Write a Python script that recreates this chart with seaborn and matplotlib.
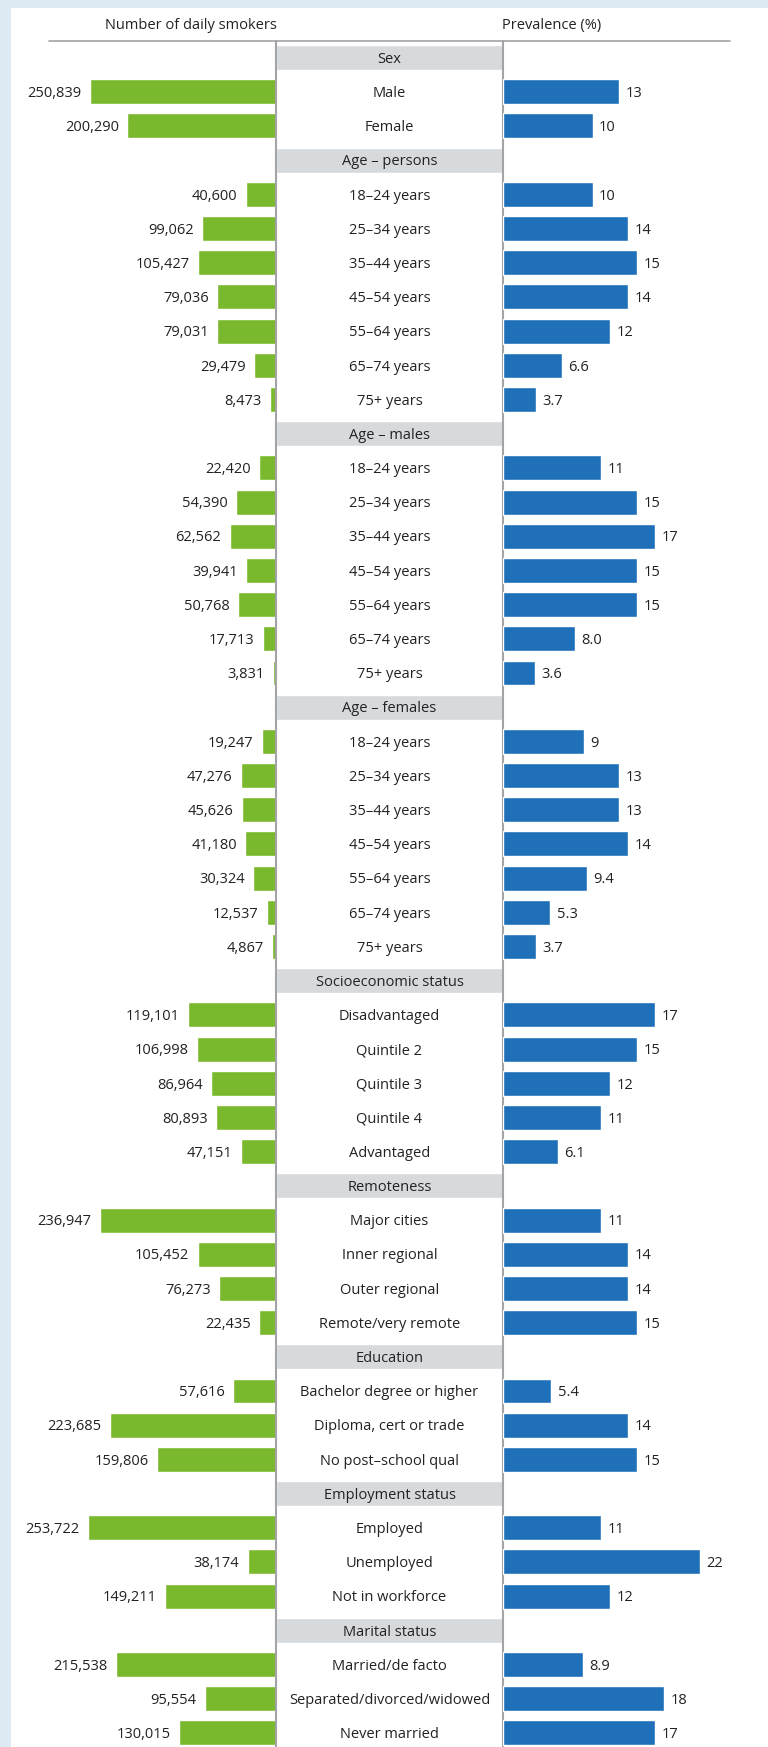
import numpy as np
import pandas as pd
import matplotlib
matplotlib.use('Agg')
import matplotlib.pyplot as plt
import seaborn as sns

# ---- data ----
sections = ['Sex', 'Age – persons', 'Age – males', 'Age – females',
            'Socioeconomic status', 'Remoteness', 'Education',
            'Employment status', 'Marital status']
ages = ['18–24 years', '25–34 years', '35–44 years', '45–54 years',
        '55–64 years', '65–74 years', '75+ years']
groups = [
    ['Male', 'Female'],
    ages, ages, ages,
    ['Disadvantaged', 'Quintile 2', 'Quintile 3', 'Quintile 4', 'Advantaged'],
    ['Major cities', 'Inner regional', 'Outer regional', 'Remote/very remote'],
    ['Bachelor degree or higher', 'Diploma, cert or trade', 'No post–school qual'],
    ['Employed', 'Unemployed', 'Not in workforce'],
    ['Married/de facto', 'Separated/divorced/widowed', 'Never married'],
]
smokers = [
    [250839, 200290],
    [40600, 99062, 105427, 79036, 79031, 29479, 8473],
    [22420, 54390, 62562, 39941, 50768, 17713, 3831],
    [19247, 47276, 45626, 41180, 30324, 12537, 4867],
    [119101, 106998, 86964, 80893, 47151],
    [236947, 105452, 76273, 22435],
    [57616, 223685, 159806],
    [253722, 38174, 149211],
    [215538, 95554, 130015],
]
prevalence = [
    ['13', '10'],
    ['10', '14', '15', '14', '12', '6.6', '3.7'],
    ['11', '15', '17', '15', '15', '8.0', '3.6'],
    ['9', '13', '13', '14', '9.4', '5.3', '3.7'],
    ['17', '15', '12', '11', '6.1'],
    ['11', '14', '14', '15'],
    ['5.4', '14', '15'],
    ['11', '22', '12'],
    ['8.9', '18', '17'],
]

# ---- build rows (headers interleaved with data rows) ----
rows = []
pos = 0
for sec, labs, sm, pr in zip(sections, groups, smokers, prevalence):
    rows.append(dict(pos=pos, label=sec, header=True, smokers=np.nan, prev=np.nan, prev_lab=''))
    pos += 1
    for lab, s, p in zip(labs, sm, pr):
        rows.append(dict(pos=pos, label=lab, header=False, smokers=s, prev=float(p), prev_lab=p))
        pos += 1
df = pd.DataFrame(rows)
data = df[~df.header]
nrows = len(df)

GREEN = '#7ab92d'
BLUE = '#1f70b8'
HEAD = '#d6dadd'
LINE = '#a3a3a8'
TXT = '#222222'
FS = 10.5
DY = -0.357 * FS  # centre cap height on the row

sns.set_theme(style='white')
plt.rcParams['font.family'] = ['Open Sans', 'DejaVu Sans']

W, H = 768, 1747
fig = plt.figure(figsize=(W / 100, H / 100), dpi=100)
fig.patch.set_facecolor('#dde9f3')
fig.add_artist(plt.Rectangle((11 / W, 0), 1, 1 - 8 / H, transform=fig.transFigure,
                             facecolor='white', edgecolor='none', zorder=0))

row_px = 34.19
top_px = 40.5
bot_px = top_px + row_px * nrows
ax_h = (bot_px - top_px) / H
ax_b = (H - bot_px) / H


def px_axes(x0, x1):
    return fig.add_axes([x0 / W, ax_b, (x1 - x0) / W, ax_h])


axL = px_axes(49, 276)
axC = px_axes(276, 503)
axR = px_axes(503, 730)

bar_w = 0.73
ylim = (nrows - 0.5, -0.5)

# left bars: number of daily smokers
sns.barplot(data=data, x='smokers', y='pos', orient='h', native_scale=True,
            color=GREEN, saturation=1, width=bar_w, ax=axL)
axL.set_xlim(227 / 188.5 * 253722, 0)
# right bars: prevalence
sns.barplot(data=data, x='prev', y='pos', orient='h', native_scale=True,
            color=BLUE, saturation=1, width=bar_w, ax=axR)
axR.set_xlim(0, 227 / 8.95)

for ax in (axL, axR, axC):
    ax.set_ylim(*ylim)
    ax.set_xlabel('')
    ax.set_ylabel('')
    ax.set_xticks([])
    ax.set_yticks([])
    ax.patch.set_alpha(0)
    for s in ax.spines.values():
        s.set_visible(False)

for _, r in data.iterrows():
    axL.annotate(f'{int(r.smokers):,}', (r.smokers, r.pos), xytext=(-6, DY),
                 textcoords='offset points', ha='right', va='baseline',
                 fontsize=FS, color=TXT, annotation_clip=False)
    axR.annotate(r.prev_lab, (r.prev, r.pos), xytext=(4.5, DY),
                 textcoords='offset points', ha='left', va='baseline',
                 fontsize=FS, color=TXT, annotation_clip=False)

# centre column: category labels and section headers
axC.set_xlim(0, 1)
for _, r in df.iterrows():
    if r.header:
        axC.barh(r.pos, 1, left=0, height=bar_w, color=HEAD, zorder=1)
    axC.annotate(r.label, (0.5, r.pos), xytext=(0, DY), textcoords='offset points',
                 ha='center', va='baseline', fontsize=FS, color=TXT, zorder=2)
for side in ('left', 'right'):
    axC.spines[side].set_visible(True)
    axC.spines[side].set_color(LINE)
    axC.spines[side].set_linewidth(1.5)

# header line and column titles
fig.add_artist(plt.Line2D([49 / W, 730 / W], [1 - top_px / H] * 2,
                          transform=fig.transFigure, color=LINE, lw=1.2))
fig.text(277 / W, 1 - 29 / H, 'Number of daily smokers', ha='right', va='baseline',
         fontsize=FS, color=TXT)
fig.text(502 / W, 1 - 29 / H, 'Prevalence (%)', ha='left', va='baseline',
         fontsize=FS, color=TXT)

fig.savefig('out.png', dpi=100, facecolor=fig.get_facecolor())
